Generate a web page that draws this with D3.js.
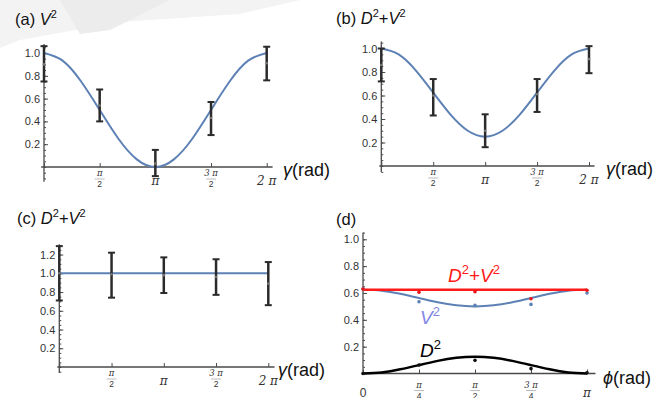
<!DOCTYPE html>
<html>
<head>
<meta charset="utf-8">
<script src="https://cdn.jsdelivr.net/npm/d3@7"></script>
<style>
  body { margin: 0; background: #fff; }
  svg { display: block; font-family: "Liberation Sans", Arial, sans-serif; }
</style>
</head>
<body>
<svg id="chart" width="666" height="398"></svg>
<script>
const PI = Math.PI;

// x positions of the measurements and tick labels
const gammaPts = [0, PI / 2, PI, 3 * PI / 2, 2 * PI];
const gammaTickLabels = ["", "π/2", "π", "3 π/2", "2 π"];
const phiPts = [0, PI / 4, PI / 2, 3 * PI / 4, PI];
const phiTickLabels = ["0", "π/4", "π/2", "3 π/4", "π"];

// curve samples, gamma every pi/6
const gammaCurve = [0, PI/6, PI/3, PI/2, 2*PI/3, 5*PI/6, PI, 7*PI/6, 4*PI/3, 3*PI/2, 5*PI/3, 11*PI/6, 2*PI];
const vCurveA = [1, 0.933, 0.75, 0.5, 0.25, 0.067, 0, 0.067, 0.25, 0.5, 0.75, 0.933, 1];
const sumCurveB = [1, 0.95, 0.8125, 0.625, 0.4375, 0.30, 0.25, 0.30, 0.4375, 0.625, 0.8125, 0.95, 1];
const sumCurveC = [1, 1, 1, 1, 1, 1, 1, 1, 1, 1, 1, 1, 1];

// phi every pi/12
const phiCurve = [0, PI/12, PI/6, PI/4, PI/3, 5*PI/12, PI/2, 7*PI/12, 2*PI/3, 3*PI/4, 5*PI/6, 11*PI/12, PI];
const vCurveD = [0.625, 0.617, 0.594, 0.5625, 0.531, 0.508, 0.5, 0.508, 0.531, 0.5625, 0.594, 0.617, 0.625];
const dCurveD = [0, 0.008, 0.031, 0.0625, 0.094, 0.117, 0.125, 0.117, 0.094, 0.0625, 0.031, 0.008, 0];
const sumCurveD = [0.625, 0.625, 0.625, 0.625, 0.625, 0.625, 0.625, 0.625, 0.625, 0.625, 0.625, 0.625, 0.625];

// measured points with error bars
const vA = [0.90, 0.54, 0.03, 0.43, 0.91];
const vAlo = [0.75, 0.40, -0.08, 0.28, 0.76];
const vAhi = [1.06, 0.68, 0.15, 0.57, 1.055];

const sumB = [0.86, 0.60, 0.30, 0.61, 0.91];
const sumBlo = [0.72, 0.43, 0.16, 0.46, 0.79];
const sumBhi = [1.00, 0.74, 0.44, 0.74, 1.02];

const sumC = [1.0, 0.99, 0.98, 0.96, 0.89];
const sumClo = [0.71, 0.74, 0.79, 0.77, 0.66];
const sumChi = [1.29, 1.22, 1.17, 1.15, 1.12];

// (d) measured points
const sumD = [0.63, 0.605, 0.61, 0.557, 0.62];
const vD = [0.63, 0.535, 0.508, 0.515, 0.60];
const dD = [0.0, 0.063, 0.098, 0.036, 0.005];

const yTicksA = [0.2, 0.4, 0.6, 0.8, 1.0];
const yTicksC = [0.2, 0.4, 0.6, 0.8, 1.0, 1.2];

const BLUE = "#5e81b5", RED = "#ff1a1a", BAR = "#2b2b2b", AXIS = "#4a4a4a";

const svg = d3.select("#chart");

// faint watermark at the top left
svg.append("path")
  .attr("d", "M0,0 L300,0 L240,14 L120,22 L20,40 L0,48 Z")
  .attr("fill", "#f3f3f3");
svg.append("path")
  .attr("d", "M60,0 L170,0 L110,30 L80,34 Z")
  .attr("fill", "#ececec");

// writes "D^2+V^2" style math into a text element
function mathText(t, parts, supSize, rise) {
  let up = false;
  parts.forEach(part => {
    if (part === "^2") {
      t.append("tspan").attr("font-size", supSize).attr("dy", -rise).text("2");
      up = true;
      return;
    }
    const s = t.append("tspan").attr("dy", up ? rise : 0).text(part);
    if (part !== "+") s.attr("font-style", "italic");
    up = false;
  });
}

function drawPanel(p) {
  const x = d3.scaleLinear().domain(p.xDomain).range(p.xRange);
  const y = d3.scaleLinear().domain([0, 1]).range(p.yRange);
  const g = svg.append("g");

  // axes lines
  g.append("line")
    .attr("x1", x(p.xExt[0])).attr("x2", x(p.xExt[1]))
    .attr("y1", y(0)).attr("y2", y(0))
    .attr("stroke", AXIS).attr("stroke-width", 1.3);
  g.append("line")
    .attr("x1", x(0)).attr("x2", x(0))
    .attr("y1", y(p.yExt[0])).attr("y2", y(p.yExt[1]))
    .attr("stroke", AXIS).attr("stroke-width", 1.3);

  // y minor ticks
  const minors = d3.range(Math.ceil(p.yExt[0] / 0.05), Math.floor(p.yExt[1] / 0.05) + 1).map(k => k * 0.05);
  g.append("g")
    .attr("transform", "translate(" + x(0) + ",0)")
    .call(d3.axisLeft(y).tickValues(minors).tickSize(-2).tickFormat(""))
    .call(a => a.select(".domain").remove())
    .call(a => a.selectAll("line").attr("stroke", AXIS));

  // y major ticks
  g.append("g")
    .attr("transform", "translate(" + x(0) + ",0)")
    .call(d3.axisLeft(y).tickValues(p.yTicks).tickSize(-4).tickPadding(4).tickFormat(d3.format(".1f")))
    .call(a => a.select(".domain").remove())
    .call(a => a.selectAll("line").attr("stroke", AXIS))
    .call(a => a.selectAll("text").attr("font-size", 11).attr("fill", "#333")
      .attr("font-family", "'Liberation Sans', Arial, sans-serif"));

  // x ticks
  g.append("g")
    .attr("transform", "translate(0," + y(0) + ")")
    .call(d3.axisBottom(x).tickValues(p.xTicks).tickSize(-4).tickFormat(""))
    .call(a => a.select(".domain").remove())
    .call(a => a.selectAll("line").attr("stroke", AXIS));

  // x tick labels (pi fractions)
  p.xTicks.forEach((t, i) => {
    const lab = p.xLabels[i];
    if (!lab) return;
    const cx = x(t), y0 = y(0) + p.labOff;
    if (lab.indexOf("/") >= 0) {
      const parts = lab.split("/");
      g.append("text").attr("x", cx).attr("y", y0 + 9).attr("text-anchor", "middle")
        .attr("font-size", 8.5).attr("fill", "#333").attr("font-family", "'DejaVu Serif', serif")
        .attr("font-style", "italic").text(parts[0]);
      g.append("line").attr("x1", cx - 5).attr("x2", cx + 5)
        .attr("y1", y0 + 12).attr("y2", y0 + 12).attr("stroke", "#777").attr("stroke-width", 0.5);
      g.append("text").attr("x", cx).attr("y", y0 + 20).attr("text-anchor", "middle")
        .attr("font-size", 8.5).attr("fill", "#333").text(parts[1]);
    } else {
      g.append("text").attr("x", cx).attr("y", y0 + 18).attr("text-anchor", "middle")
        .attr("font-size", 12).attr("fill", "#333")
        .attr("font-family", lab === "0" ? "'Liberation Sans', Arial, sans-serif" : "'DejaVu Serif', serif")
        .attr("font-style", lab === "0" ? "normal" : "italic")
        .text(lab);
    }
  });

  // axis label
  const al = g.append("text").attr("x", p.axLab[0]).attr("y", p.axLab[1])
    .attr("font-size", 18).attr("fill", "#111");
  al.append("tspan").attr("font-style", "italic").text(p.axSym);
  al.append("tspan").text("(rad)");

  // title
  const tt = g.append("text").attr("x", p.title[0]).attr("y", p.title[1])
    .attr("font-size", 16.5).attr("fill", "#111");
  tt.append("tspan").text(p.titleTag);
  mathText(tt, p.titleParts, 11, 7);

  return { g: g, x: x, y: y };
}

function curve(P, xs, ys, color, w) {
  const line = d3.line().x((d, i) => P.x(xs[i])).y(d => P.y(d)).curve(d3.curveNatural);
  P.g.append("path").datum(ys).attr("d", line)
    .attr("fill", "none").attr("stroke", color).attr("stroke-width", w);
}

function errorBars(P, xs, v, lo, hi) {
  const eb = P.g.append("g");
  xs.forEach((t, i) => {
    const cx = P.x(t);
    eb.append("line").attr("x1", cx).attr("x2", cx).attr("y1", P.y(lo[i])).attr("y2", P.y(hi[i]))
      .attr("stroke", BAR).attr("stroke-width", 2.5);
    [lo[i], hi[i]].forEach(e => {
      eb.append("line").attr("x1", cx - 3.5).attr("x2", cx + 3.5).attr("y1", P.y(e)).attr("y2", P.y(e))
        .attr("stroke", BAR).attr("stroke-width", 2);
    });
    eb.append("circle").attr("cx", cx).attr("cy", P.y(v[i])).attr("r", 1.3).attr("fill", "#777");
  });
}

// (a)
const A = drawPanel({
  xDomain: [0, 2 * PI], xRange: [44, 266.7], yRange: [167, 53],
  xExt: [-0.08, 6.45], yExt: [-0.13, 1.08],
  xTicks: gammaPts, xLabels: gammaTickLabels, yTicks: yTicksA, labOff: 0,
  axSym: "γ", axLab: [283, 176],
  titleTag: "(a) ", titleParts: ["V", "^2"], title: [15, 25]
});
curve(A, gammaCurve, vCurveA, BLUE, 2);
errorBars(A, gammaPts, vA, vAlo, vAhi);

// (b)
const B = drawPanel({
  xDomain: [0, 2 * PI], xRange: [381.3, 589], yRange: [166, 48.5],
  xExt: [-0.06, 6.45], yExt: [-0.05, 1.06],
  xTicks: gammaPts, xLabels: gammaTickLabels, yTicks: yTicksA, labOff: 0,
  axSym: "γ", axLab: [606, 175],
  titleTag: "(b) ", titleParts: ["D", "^2", "+", "V", "^2"], title: [336, 24]
});
curve(B, gammaCurve, sumCurveB, BLUE, 2);
errorBars(B, gammaPts, sumB, sumBlo, sumBhi);

// (c)
const C = drawPanel({
  xDomain: [0, 2 * PI], xRange: [59.3, 268.3], yRange: [367, 273.3],
  xExt: [-0.06, 6.47], yExt: [-0.065, 1.31],
  xTicks: gammaPts, xLabels: gammaTickLabels, yTicks: yTicksC, labOff: 0,
  axSym: "γ", axLab: [278, 376],
  titleTag: "(c) ", titleParts: ["D", "^2", "+", "V", "^2"], title: [17, 224]
});
curve(C, gammaCurve, sumCurveC, BLUE, 2);
errorBars(C, gammaPts, sumC, sumClo, sumChi);

// (d)
const D = drawPanel({
  xDomain: [0, PI], xRange: [363, 587], yRange: [373.5, 239.3],
  xExt: [0, 3.26], yExt: [-0.01, 1.05],
  xTicks: phiPts, xLabels: phiTickLabels, yTicks: yTicksA, labOff: 5,
  axSym: "ϕ", axLab: [603, 384],
  titleTag: "(d)", titleParts: [], title: [336, 225]
});
curve(D, phiCurve, vCurveD, BLUE, 2);
curve(D, phiCurve, dCurveD, "#000", 2.5);
curve(D, phiCurve, sumCurveD, RED, 2.5);

[[vD, BLUE], [sumD, "#e8151b"], [dD, "#111"]].forEach(function(s) {
  D.g.append("g").selectAll("circle").data(s[0]).enter().append("circle")
    .attr("cx", (d, i) => D.x(phiPts[i])).attr("cy", d => D.y(d))
    .attr("r", 1.8).attr("fill", s[1]);
});

// inline series labels in (d)
function seriesLabel(px, py, parts, color) {
  const t = D.g.append("text").attr("x", px).attr("y", py).attr("font-size", 19).attr("fill", color);
  mathText(t, parts, 13, 8);
}
seriesLabel(448, 282, ["D", "^2", "+", "V", "^2"], RED);
seriesLabel(420, 324, ["V", "^2"], "#7f86e6");
seriesLabel(420, 357, ["D", "^2"], "#000");
</script>
</body>
</html>
